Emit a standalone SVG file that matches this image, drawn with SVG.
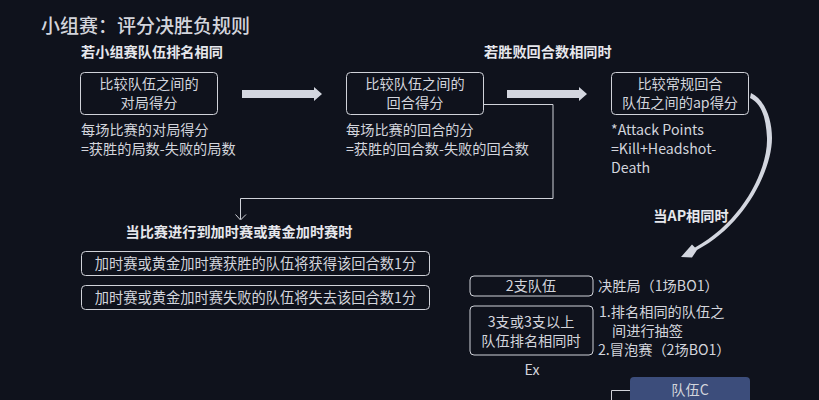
<svg xmlns="http://www.w3.org/2000/svg" width="819" height="400" viewBox="0 0 819 400">
<style>
text{font-family:"Noto Sans CJK SC","Noto Sans",sans-serif;fill:#d3d5dc;font-size:14.200px}
.m{text-anchor:middle}
.b{font-weight:700;fill:#e6e7ec}
.w{font-size:14.250px}
.box{fill:none;stroke:#d0d2d9;stroke-width:1}
.arrow{fill:#d3d6df;stroke:none}
</style>
<rect width="819" height="400" fill="#0f121c"/>
<text x="41" y="33" style="font-size:19px;font-weight:500">小组赛：评分决胜负规则</text>
<text x="81" y="57" class="b">若小组赛队伍排名相同</text>
<text x="484" y="57" class="b">若胜败回合数相同时</text>
<g id="connectors">
<polygon class="arrow" points="242,90 314,90 314,87 322,94 314,101 314,98 242,98"/>
<polygon class="arrow" points="507,90 579,90 579,87 587,94 579,101 579,98 507,98"/>
<path d="M484,104.500H553V198.500H240.500V219" fill="none" stroke="#d0d2d9" stroke-width="1"/>
<path d="M235.500,214.500L240.500,220L246,214.500" fill="none" stroke="#d0d2d9" stroke-width="1"/>
<path class="arrow" d="M751,93C764,99 772,118 772,138C772,170 745,225 697,250L692,257.500L681,257L692,244.500L695,247.500C742,222 768,170 767,138C766,118 762,104 750,98Z"/>
<path d="M611.500,400V390.500H630" fill="none" stroke="#d0d2d9" stroke-width="1"/>
</g>
<g id="node-1"><rect class="box" x="80.500" y="72.500" width="137" height="42" rx="4"/>
<text x="149" y="89" class="m">比较队伍之间的</text><text x="149" y="108" class="m">对局得分</text></g>
<g id="note-1"><text x="81" y="135">每场比赛的对局得分</text><text x="81" y="154">=获胜的局数-失败的局数</text></g>
<g id="node-2"><rect class="box" x="346.500" y="72.500" width="137" height="42" rx="4"/>
<text x="415" y="89" class="m">比较队伍之间的</text><text x="415" y="108" class="m">回合得分</text></g>
<g id="note-2"><text x="346" y="135">每场比赛的回合的分</text><text x="346" y="154">=获胜的回合数-失败的回合数</text></g>
<g id="node-3"><rect class="box" x="611.500" y="72.500" width="137" height="42" rx="4"/>
<text x="680" y="89" class="m">比较常规回合</text><text x="680" y="108" class="m">队伍之间的ap得分</text></g>
<g id="note-3"><text x="611" y="135">*Attack Points</text><text x="611" y="154">=Kill+Headshot-</text><text x="611" y="173">Death</text></g>
<text x="239" y="237" class="b m">当比赛进行到加时赛或黄金加时赛时</text>
<g id="node-4"><rect class="box" x="81.500" y="251.500" width="348" height="24" rx="4"/>
<text x="255.500" y="269" class="m w">加时赛或黄金加时赛获胜的队伍将获得该回合数1分</text></g>
<g id="node-5"><rect class="box" x="81.500" y="285.500" width="348" height="24" rx="4"/>
<text x="255.500" y="303" class="m w">加时赛或黄金加时赛失败的队伍将失去该回合数1分</text></g>
<text x="691" y="221" class="b m">当AP相同时</text>
<g id="node-6"><rect class="box" x="470" y="276" width="123" height="20" rx="4"/>
<text x="531" y="291" class="m">2支队伍</text></g>
<text x="598" y="291">决胜局（1场BO1）</text>
<g id="node-7"><rect class="box" x="470" y="306" width="123" height="49" rx="4"/>
<text x="531" y="327" class="m">3支或3支以上</text><text x="531" y="346" class="m">队伍排名相同时</text></g>
<g id="note-7"><text x="599" y="317">1.排名相同的队伍之</text><text x="612" y="336">间进行抽签</text><text x="598" y="355">2.冒泡赛（2场BO1）</text></g>
<text x="532" y="375" class="m">Ex</text>
<g id="node-8"><path d="M630,400V381a4,4 0 0 1 4,-4H746a4,4 0 0 1 4,4V400Z" fill="#3c4d7b"/>
<text x="690" y="395" class="m">队伍C</text></g>
</svg>
